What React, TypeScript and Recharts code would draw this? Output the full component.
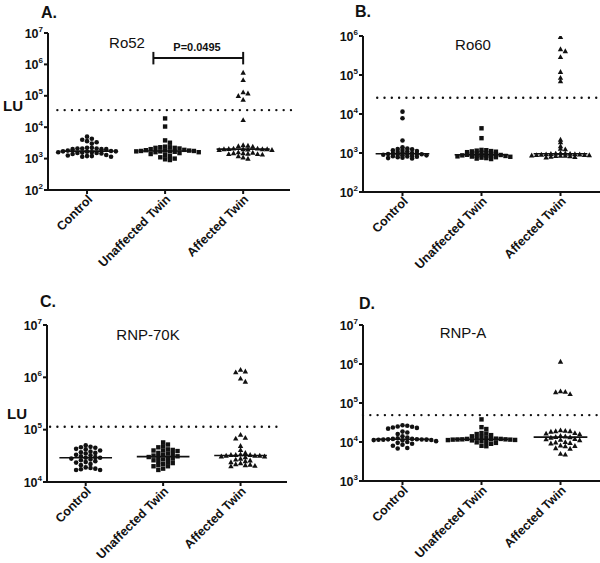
import React from "react";
import { ScatterChart, Scatter, XAxis, YAxis, ReferenceLine } from "recharts";

const categories = ["Control", "Unaffected Twin", "Affected Twin"];

// Ro52 (panel A)
const ro52Control = [5000, 4300, 4000, 3600, 3300, 3000, 2200, 2200, 2100, 2100, 2100, 2000, 2000, 2000, 1800, 1750, 1700, 1700, 1650, 1600, 1600, 1550, 1500, 1500, 1450, 1400, 1300, 1250, 1200, 1200, 1150, 1150];
const ro52Unaffected = [19000, 10500, 3800, 3200, 2400, 2300, 2300, 2200, 2200, 2100, 2000, 1900, 1850, 1800, 1800, 1750, 1750, 1700, 1700, 1700, 1650, 1600, 1600, 1500, 1400, 1300, 1200, 1100, 1000, 950, 900];
const ro52Affected = [550000, 320000, 130000, 120000, 100000, 75000, 17000, 2700, 2600, 2500, 2400, 2100, 2100, 2050, 2000, 2000, 2000, 2000, 1950, 1900, 1900, 1600, 1550, 1500, 1500, 1450, 1400, 1400, 1350, 1200, 1100, 1000];

// Ro60 (panel B)
const ro60Control = [11500, 7800, 2100, 1400, 1300, 1270, 1240, 1200, 1170, 1130, 1100, 1060, 1030, 1000, 980, 960, 950, 940, 930, 910, 900, 880, 870, 850, 830, 810, 800, 780, 760, 740, 720];
const ro60Unaffected = [4300, 2400, 1200, 1180, 1150, 1120, 1100, 1080, 1050, 1020, 1000, 980, 960, 940, 920, 900, 890, 880, 870, 860, 850, 840, 830, 820, 810, 800, 780, 760, 740, 720, 700];
const ro60Affected = [950000, 460000, 410000, 290000, 120000, 85000, 70000, 2200, 1900, 1500, 1300, 1250, 1000, 980, 970, 960, 950, 940, 930, 920, 910, 900, 890, 880, 870, 860, 850, 840, 830, 810, 790, 770];

// RNP-70K (panel C)
const rnp70Control = [50000, 47000, 46000, 45000, 43000, 42000, 40000, 38000, 37000, 36000, 35000, 33000, 32000, 31000, 30000, 29000, 29000, 28000, 27000, 26000, 25000, 24000, 23500, 22000, 21000, 19000, 18500, 18000, 17500, 17000, 17000];
const rnp70Unaffected = [57000, 52000, 48000, 46000, 42000, 41000, 40000, 40000, 39000, 36000, 35000, 34000, 33000, 32000, 31000, 30000, 30000, 29000, 28000, 27000, 26000, 25000, 24000, 23000, 22000, 21000, 20000, 20000, 18000, 17000];
const rnp70Affected = [1400000, 1300000, 1250000, 950000, 830000, 80000, 70000, 68000, 49000, 41000, 36000, 34000, 33000, 33000, 33000, 32000, 32000, 32000, 31000, 31000, 30000, 28000, 27000, 26000, 25000, 24000, 23000, 22000, 21500, 21000, 20500, 20000];

// RNP-A (panel D)
const rnpAControl = [27000, 26000, 25000, 24500, 23500, 23000, 22000, 18500, 17500, 16000, 14000, 13000, 12500, 12000, 12000, 11800, 11700, 11600, 11500, 11500, 11400, 11300, 11200, 11000, 10500, 10000, 9500, 9000, 8500, 8000, 7000, 6800];
const rnpAUnaffected = [38000, 24000, 21500, 17000, 16500, 16000, 15000, 14000, 13500, 13000, 12500, 12200, 12000, 12000, 11800, 11700, 11700, 11600, 11500, 11500, 11300, 11200, 11000, 10500, 10000, 9800, 9500, 9000, 8000, 7800];
const rnpAAffected = [1150000, 200000, 195000, 190000, 170000, 20000, 19500, 19000, 19000, 18500, 17000, 16500, 16000, 14500, 14000, 13500, 13300, 13000, 12000, 11800, 11500, 11200, 10000, 9800, 9500, 9200, 8200, 8000, 7800, 7000, 6800, 5000, 4800];

// positivity cut-offs (dotted lines)
const cutoffs = { ro52: 35000, ro60: 26000, rnp70: 114000, rnpA: 49000 };

const FONT = "'Liberation Sans', Arial, sans-serif";

// beeswarm layout in pixel space: push a point sideways until it clears the ones already placed
function swarm(values: number[], k: number, pxDec: number, pxUnit: number, h: number) {
  const w = 4.8;
  const sorted = [...values].sort((a, b) => b - a);
  const placed: { dx: number; py: number }[] = [];
  return sorted.map((v) => {
    const py = Math.log10(v) * pxDec;
    let dx = 0;
    for (let n = 0; n < 400; n++) {
      const cand = n === 0 ? 0 : (n % 2 ? 1 : -1) * Math.ceil(n / 2) * (w / 2);
      if (placed.every((p) => Math.abs(p.dx - cand) >= w - 0.01 || Math.abs(p.py - py) >= h)) {
        dx = cand;
        break;
      }
    }
    placed.push({ dx, py });
    return { x: k + dx / pxUnit, y: v };
  });
}

function median(values: number[]) {
  const s = [...values].sort((a, b) => a - b);
  const m = Math.floor(s.length / 2);
  return s.length % 2 ? s[m] : (s[m - 1] + s[m]) / 2;
}

const Dot = (p: any) => <circle cx={p.cx} cy={p.cy} r={2.3} fill="#111" />;
const Square = (p: any) => <rect x={p.cx - 2.2} y={p.cy - 2.2} width={4.4} height={4.4} fill="#111" />;
const Tri = (p: any) => (
  <polygon points={`${p.cx},${p.cy - 2.8} ${p.cx + 2.7},${p.cy + 2.1} ${p.cx - 2.7},${p.cy + 2.1}`} fill="#111" />
);
const shapes = [Dot, Square, Tri];

const LogTick = (p: any) => {
  const e = Math.round(Math.log10(p.payload.value));
  return (
    <text x={p.x} y={p.y + 4.5} textAnchor="end" fontFamily={FONT} fontWeight="bold" fontSize={12.5} fill="#111">
      10<tspan dy={-6} fontSize={8}>{e}</tspan>
    </text>
  );
};

const CatTick = (p: any) => (
  <g transform={`translate(${p.x + 3},${p.y + 1}) rotate(-45)`}>
    <text x={0} y={0} dy="0.35em" textAnchor="end" fontFamily={FONT} fontWeight="bold" fontSize={12.5} fill="#111">
      {categories[p.payload.value - 1]}
    </text>
  </g>
);

type PanelCfg = {
  groups: number[][];
  cutoff: number;
  yDomain: [number, number];
  xDomain: [number, number];
  width: number;
  height: number;
  yWidth: number;
  top: number;
  right: number;
  xHeight: number;
  bottom: number;
  pxPerDecade: number;
  pxPerUnit: number;
  rowGap: number;
  cut: [number, number];
  bracket?: boolean;
};

function Panel({ cfg }: { cfg: PanelCfg }) {
  const ticks: number[] = [];
  for (let e = Math.log10(cfg.yDomain[0]); e <= Math.log10(cfg.yDomain[1]); e++) ticks.push(Math.pow(10, e));
  const axisStyle = { stroke: "#111", strokeWidth: 2 };
  return (
    <ScatterChart
      width={cfg.width}
      height={cfg.height}
      margin={{ top: cfg.top, right: cfg.right, left: 0, bottom: cfg.bottom }}
    >
      <XAxis
        type="number"
        dataKey="x"
        domain={cfg.xDomain}
        ticks={[1, 2, 3]}
        allowDataOverflow
        height={cfg.xHeight}
        axisLine={axisStyle}
        tickLine={axisStyle}
        tickSize={4}
        tick={<CatTick />}
        interval={0}
      />
      <YAxis
        type="number"
        dataKey="y"
        scale="log"
        domain={cfg.yDomain}
        ticks={ticks}
        allowDataOverflow
        width={cfg.yWidth}
        axisLine={axisStyle}
        tickLine={axisStyle}
        tickSize={4}
        tickMargin={1}
        tick={<LogTick />}
        interval={0}
      />
      <ReferenceLine
        segment={[
          { x: cfg.cut[0], y: cfg.cutoff },
          { x: cfg.cut[1], y: cfg.cutoff },
        ]}
        ifOverflow="visible"
        stroke="#111"
        strokeWidth={2.4}
        strokeDasharray="0 7.3"
        strokeLinecap="round"
      />
      {cfg.groups.map((g, i) => (
        <ReferenceLine
          key={"m" + i}
          segment={[
            { x: i + 1 - 0.34, y: median(g) },
            { x: i + 1 + 0.34, y: median(g) },
          ]}
          stroke="#111"
          strokeWidth={1.6}
        />
      ))}
      {cfg.bracket && (
        <>
          <ReferenceLine segment={[{ x: 1.85, y: 1.6e6 }, { x: 3, y: 1.6e6 }]} ifOverflow="visible" stroke="#111" strokeWidth={2} />
          <ReferenceLine segment={[{ x: 1.85, y: 2.5e6 }, { x: 1.85, y: 1e6 }]} ifOverflow="visible" stroke="#111" strokeWidth={2} />
          <ReferenceLine segment={[{ x: 3, y: 2.5e6 }, { x: 3, y: 1e6 }]} ifOverflow="visible" stroke="#111" strokeWidth={2} />
        </>
      )}
      {cfg.groups.map((g, i) => (
        <Scatter
          key={"s" + i}
          data={swarm(g, i + 1, cfg.pxPerDecade, cfg.pxPerUnit, cfg.rowGap)}
          shape={shapes[i]}
          isAnimationActive={false}
        />
      ))}
    </ScatterChart>
  );
}

const panelA: PanelCfg = {
  groups: [ro52Control, ro52Unaffected, ro52Affected],
  cutoff: cutoffs.ro52,
  yDomain: [1e2, 1e7],
  xDomain: [0.5, 3.6],
  width: 300,
  height: 280,
  yWidth: 48,
  top: 33,
  right: 10,
  xHeight: 80,
  bottom: 10,
  pxPerDecade: 31.4,
  pxPerUnit: 78,
  rowGap: 3.8,
  cut: [0.62, 3.7],
  bracket: true,
};
const panelB: PanelCfg = {
  groups: [ro60Control, ro60Unaffected, ro60Affected],
  cutoff: cutoffs.ro60,
  yDomain: [1e2, 1e6],
  xDomain: [0.5, 3.5],
  width: 300,
  height: 280,
  yWidth: 63,
  top: 36,
  right: 0,
  xHeight: 80,
  bottom: 8,
  pxPerDecade: 39,
  pxPerUnit: 79,
  rowGap: 2.4,
  cut: [0.68, 3.5],
};
const panelC: PanelCfg = {
  groups: [rnp70Control, rnp70Unaffected, rnp70Affected],
  cutoff: cutoffs.rnp70,
  yDomain: [1e4, 1e7],
  xDomain: [0.5, 3.6],
  width: 300,
  height: 283,
  yWidth: 47,
  top: 45,
  right: 13,
  xHeight: 75,
  bottom: 6,
  pxPerDecade: 52.3,
  pxPerUnit: 77.4,
  rowGap: 3.8,
  cut: [0.54, 3.5],
};
const panelD: PanelCfg = {
  groups: [rnpAControl, rnpAUnaffected, rnpAAffected],
  cutoff: cutoffs.rnpA,
  yDomain: [1e3, 1e7],
  xDomain: [0.5, 3.5],
  width: 300,
  height: 283,
  yWidth: 63,
  top: 45,
  right: 0,
  xHeight: 75,
  bottom: 7,
  pxPerDecade: 39,
  pxPerUnit: 79,
  rowGap: 3.8,
  cut: [0.5, 3.5],
};

const txt = (left: number, top: number, size: number, bold: boolean, content: string, center = false): React.ReactNode => (
  <div
    style={{
      position: "absolute",
      left,
      top,
      fontFamily: FONT,
      fontSize: size,
      fontWeight: bold ? "bold" : "normal",
      lineHeight: 1,
      color: "#111",
      whiteSpace: "nowrap",
      transform: center ? "translateX(-50%)" : undefined,
    }}
  >
    {content}
  </div>
);

export default function App() {
  return (
    <div style={{ position: "absolute", left: 0, top: 0, width: 600, height: 563, background: "#fff", overflow: "hidden" }}>
      <div style={{ position: "absolute", left: 0, top: 0 }}>
        <Panel cfg={panelA} />
      </div>
      <div style={{ position: "absolute", left: 300, top: 0 }}>
        <Panel cfg={panelB} />
      </div>
      <div style={{ position: "absolute", left: 0, top: 280 }}>
        <Panel cfg={panelC} />
      </div>
      <div style={{ position: "absolute", left: 300, top: 280 }}>
        <Panel cfg={panelD} />
      </div>
      {txt(41, 5, 16, true, "A.")}
      {txt(355, 4, 16, true, "B.")}
      {txt(40, 294, 16, true, "C.")}
      {txt(359, 296, 16, true, "D.")}
      {txt(3, 98, 15, true, "LU")}
      {txt(7, 406, 15, true, "LU")}
      {txt(127, 35, 15, false, "Ro52", true)}
      {txt(197, 42, 11, true, "P=0.0495", true)}
      {txt(473, 37, 15, false, "Ro60", true)}
      {txt(148, 327, 15, false, "RNP-70K", true)}
      {txt(463, 325, 15, false, "RNP-A", true)}
    </div>
  );
}
